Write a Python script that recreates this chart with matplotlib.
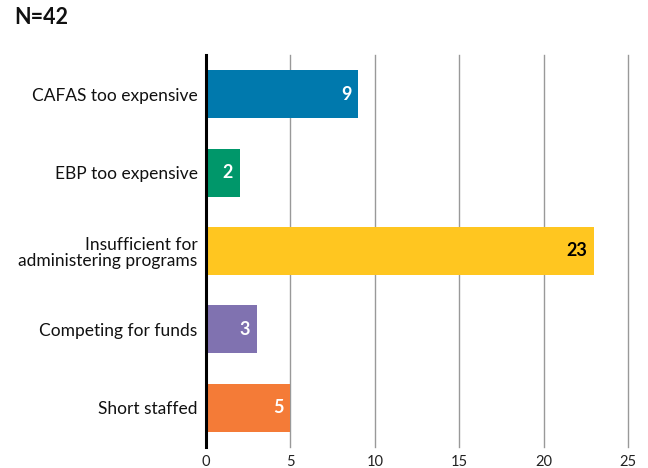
import matplotlib
matplotlib.use("Agg")
import matplotlib.pyplot as plt

categories = ["CAFAS too expensive", "EBP too expensive",
              "Insufficient for\nadministering programs",
              "Competing for funds", "Short staffed"]
values = [9, 2, 23, 3, 5]
colors = ["#0079AD", "#00976A", "#FFC620", "#8072B0", "#F47B37"]
label_colors = ["white", "white", "black", "white", "white"]
xticks = [0, 5, 10, 15, 20, 25]

plt.rcParams['font.family'] = ['Lato', 'DejaVu Sans']

fig = plt.figure(figsize=(6.48, 4.68), dpi=100)
ax = fig.add_axes([206/648, 1-447/468, 422/648, (447-55)/468])

y = list(range(len(categories)))
ax.barh(y, values, height=0.61, color=colors, zorder=3)
for yi, v, lc in zip(y, values, label_colors):
    ax.text(v - 0.4, yi, str(v), ha='right', va='center', color=lc,
            fontsize=13, fontweight='bold', zorder=4)

ax.set_xlim(0, 25)
ax.set_ylim(len(categories) - 0.5, -0.5)
ax.set_yticks(y)
ax.set_yticklabels(categories, fontsize=12.5, color='#111111', linespacing=1.05)
ax.set_xticks(xticks)
ax.set_xticklabels([str(t) for t in xticks], fontsize=10.5, color='#222222')
ax.tick_params(axis='y', length=0, pad=6)
ax.tick_params(axis='x', length=0, pad=6)
for lab in ax.get_yticklabels():
    lab.set_multialignment('right')

ax.grid(axis='x', color='#999999', linewidth=1, zorder=0)
ax.grid(axis='y', visible=False)
for gl in ax.get_xgridlines():
    gl.set_clip_on(False)
for s in ['top', 'right', 'bottom']:
    ax.spines[s].set_visible(False)
ax.spines['left'].set_linewidth(2.2)
ax.spines['left'].set_color('black')
ax.spines['left'].set_zorder(5)

fig.text(14/648, 1-18/468, "N=42", fontsize=15.5, fontweight='bold',
         ha='left', va='center', color='#111111')

fig.savefig("out.png", dpi=100)
